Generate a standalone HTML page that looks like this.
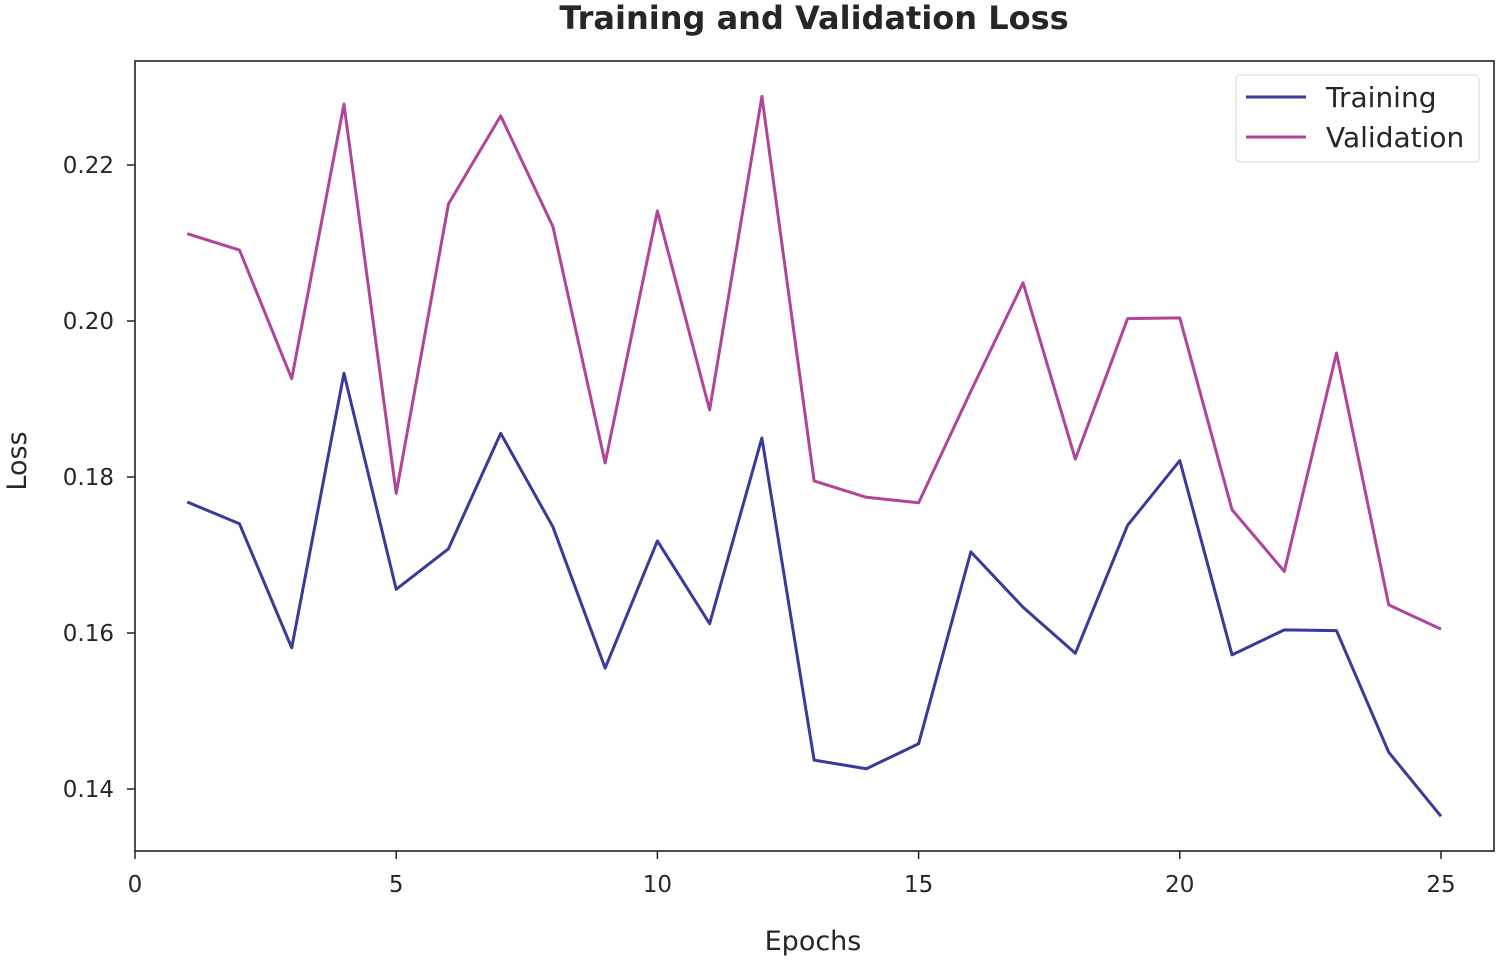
<!DOCTYPE html>
<html><head><meta charset="utf-8"><style>
html,body{margin:0;padding:0;background:#fff;}
svg text{font-family:"DejaVu Sans","Liberation Sans",sans-serif;fill:#262626;}
</style></head><body>
<svg id="chart" width="1500" height="960" xmlns="http://www.w3.org/2000/svg">
<text x="814" y="29" text-anchor="middle" font-size="32" font-weight="bold">Training and Validation Loss</text>
<rect x="135" y="61" width="1359" height="790" fill="none" stroke="#222" stroke-width="1.6"/>
<g id="xticks"></g>
<g id="yticks"></g>
<text x="813" y="950" text-anchor="middle" font-size="27">Epochs</text>
<text x="0" y="0" transform="translate(26,461) rotate(-90)" text-anchor="middle" font-size="27">Loss</text>
<g id="series"></g>
<g>
<rect x="1236" y="75" width="243" height="87" rx="4" fill="#fff" stroke="#ddd" stroke-width="1.2"/>
<line x1="1246" y1="97" x2="1306" y2="97" stroke="#383b98" stroke-width="3"/>
<text x="1326" y="107" font-size="28">Training</text>
<line x1="1246" y1="137" x2="1306" y2="137" stroke="#b0449b" stroke-width="3"/>
<text x="1326" y="147" font-size="28">Validation</text>
</g>
</svg>
<script>
const epochs=[1,2,3,4,5,6,7,8,9,10,11,12,13,14,15,16,17,18,19,20,21,22,23,24,25];
const trainingLoss=[0.1768,0.1740,0.1581,0.1933,0.1656,0.1708,0.1856,0.1736,0.1555,0.1718,0.1612,0.1850,0.1437,0.1426,0.1458,0.1704,0.1633,0.1574,0.1738,0.1821,0.1572,0.1604,0.1603,0.1447,0.1365];
const validationLoss=[0.2112,0.2091,0.1926,0.2278,0.1779,0.2150,0.2263,0.2121,0.1818,0.2141,0.1886,0.2288,0.1795,0.1774,0.1767,0.1910,0.2049,0.1823,0.2003,0.2004,0.1758,0.1679,0.1959,0.1636,0.1605];
const xTicks=[0,5,10,15,20,25];
const yTicks=[0.14,0.16,0.18,0.20,0.22];
const NS="http://www.w3.org/2000/svg";
function xs(v){return 135+v*(1441-135)/25;}
function ys(v){return 165+(0.22-v)*7800;}
const xg=document.getElementById('xticks'),yg=document.getElementById('yticks'),sg=document.getElementById('series');
xTicks.forEach(t=>{
 const l=document.createElementNS(NS,'line');
 l.setAttribute('x1',xs(t));l.setAttribute('x2',xs(t));l.setAttribute('y1',851);l.setAttribute('y2',859);
 l.setAttribute('stroke','#222');l.setAttribute('stroke-width','1.5');
 
 
 xg.appendChild(l);
 const tx=document.createElementNS(NS,'text');
 tx.setAttribute('x',xs(t));tx.setAttribute('y',892);tx.setAttribute('text-anchor','middle');tx.setAttribute('font-size','23');
 tx.textContent=t;
 
 
 xg.appendChild(tx);
});
yTicks.forEach(t=>{
 const l=document.createElementNS(NS,'line');
 l.setAttribute('x1',127);l.setAttribute('x2',135);l.setAttribute('y1',ys(t));l.setAttribute('y2',ys(t));
 l.setAttribute('stroke','#222');l.setAttribute('stroke-width','1.5');
 
 
 yg.appendChild(l);
 const tx=document.createElementNS(NS,'text');
 tx.setAttribute('x',114);tx.setAttribute('y',ys(t)+8);tx.setAttribute('text-anchor','end');tx.setAttribute('font-size','23');
 tx.textContent=t.toFixed(2);
 
 
 yg.appendChild(tx);
});
function line(vals,color,name){
 const p=document.createElementNS(NS,'polyline');
 p.setAttribute('points',vals.map((v,i)=>xs(epochs[i])+','+ys(v)).join(' '));
 p.setAttribute('fill','none');p.setAttribute('stroke',color);p.setAttribute('stroke-width','3');p.setAttribute('stroke-linejoin','round');
 
 
 sg.appendChild(p);
}
line(validationLoss,'#b0449b','validation-line');
line(trainingLoss,'#383b98','training-line');
</script>
</body></html>
